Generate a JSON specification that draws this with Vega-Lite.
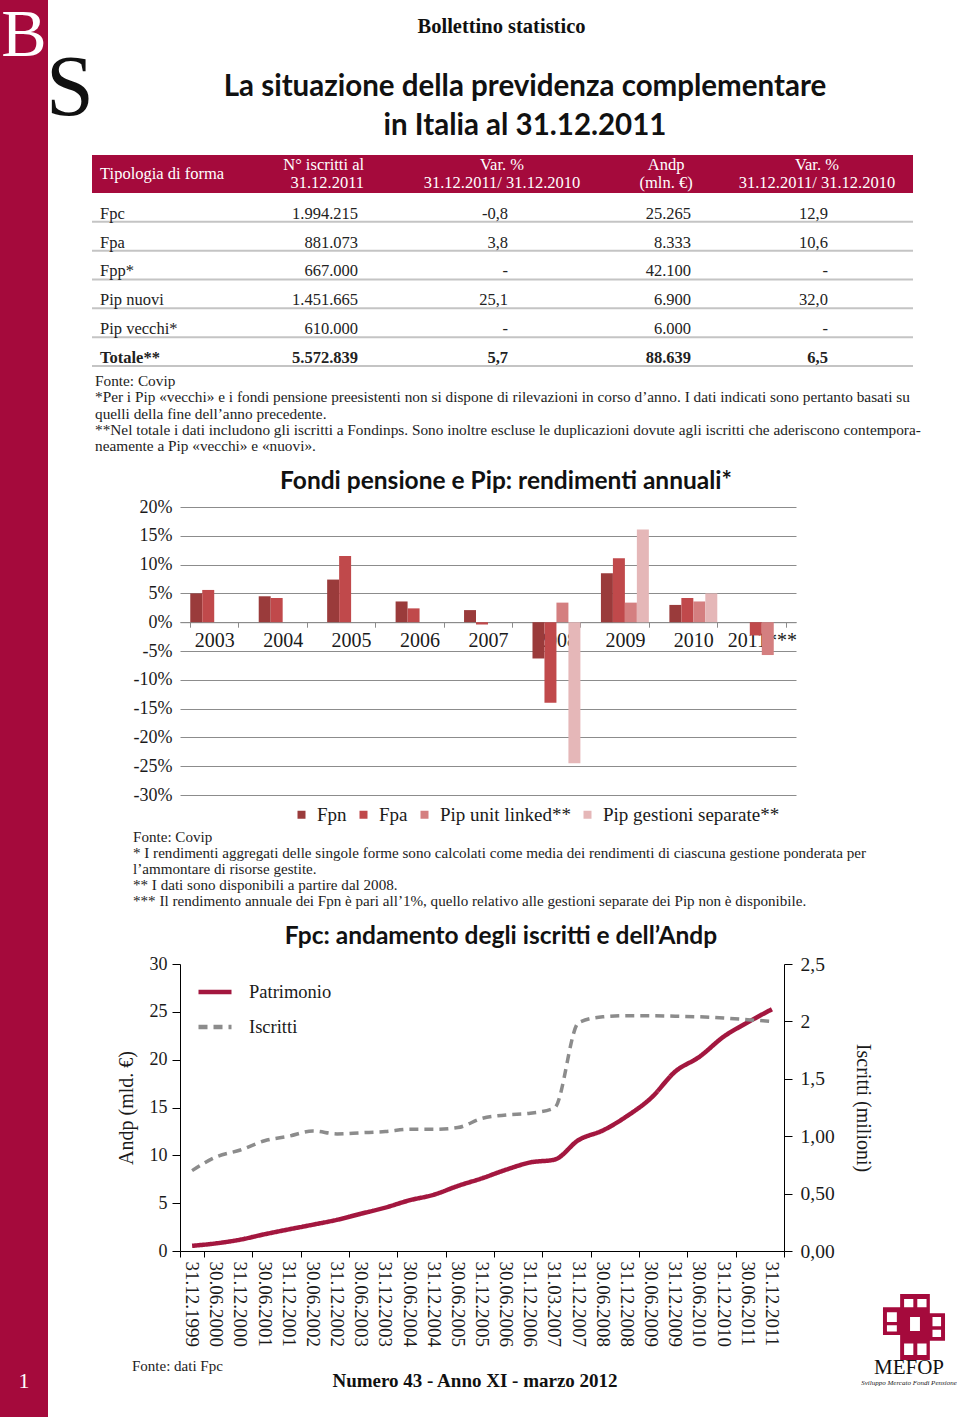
{
  "$schema": "https://vega.github.io/schema/vega-lite/v6.json",
  "padding": 0,
  "background": "white",
  "columns": 4,
  "align": "each",
  "spacing": 0,
  "bounds": "flush",
  "resolve": {"scale": {"color": "independent", "strokeDash": "independent"}, "legend": {"color": "independent", "strokeDash": "independent"}},
  "config": {
    "view": {"stroke": null},
    "concat": {"spacing": 0},
    "font": "Liberation Serif",
    "text": {"font": "Liberation Serif", "color": "#1a1a1a"},
    "axis": {"labelFont": "Liberation Serif", "titleFont": "Liberation Serif", "labelColor": "#1a1a1a", "titleColor": "#1a1a1a"},
    "legend": {"labelFont": "Liberation Serif", "labelColor": "#1a1a1a", "padding": 0},
    "title": {"font": "Liberation Serif", "color": "#1a1a1a", "fontWeight": "normal"}
  },
  "datasets": {
    "thead": [
      {"col": "forma", "h": "Tipologia di forma"},
      {"col": "iscritti", "h": "N° iscritti al\n31.12.2011"},
      {"col": "var1", "h": "Var. %\n31.12.2011/ 31.12.2010"},
      {"col": "andp", "h": "Andp\n(mln. €)"},
      {"col": "var2", "h": "Var. %\n31.12.2011/ 31.12.2010"}
    ],
    "table": [
      {"forma": "Fpc", "iscritti": "1.994.215", "var1": "-0,8", "andp": "25.265", "var2": "12,9"},
      {"forma": "Fpa", "iscritti": "881.073", "var1": "3,8", "andp": "8.333", "var2": "10,6"},
      {"forma": "Fpp*", "iscritti": "667.000", "var1": "-", "andp": "42.100", "var2": "-"},
      {"forma": "Pip nuovi", "iscritti": "1.451.665", "var1": "25,1", "andp": "6.900", "var2": "32,0"},
      {"forma": "Pip vecchi*", "iscritti": "610.000", "var1": "-", "andp": "6.000", "var2": "-"},
      {"forma": "Totale**", "iscritti": "5.572.839", "var1": "5,7", "andp": "88.639", "var2": "6,5"}
    ],
    "bars": [
      {"anno": "2003", "serie": "Fpn", "valore": 5.0}, {"anno": "2003", "serie": "Fpa", "valore": 5.6},
      {"anno": "2004", "serie": "Fpn", "valore": 4.5}, {"anno": "2004", "serie": "Fpa", "valore": 4.2},
      {"anno": "2005", "serie": "Fpn", "valore": 7.4}, {"anno": "2005", "serie": "Fpa", "valore": 11.5},
      {"anno": "2006", "serie": "Fpn", "valore": 3.6}, {"anno": "2006", "serie": "Fpa", "valore": 2.4},
      {"anno": "2007", "serie": "Fpn", "valore": 2.1}, {"anno": "2007", "serie": "Fpa", "valore": -0.4},
      {"anno": "2008", "serie": "Fpn", "valore": -6.3}, {"anno": "2008", "serie": "Fpa", "valore": -14.0},
      {"anno": "2008", "serie": "Pip unit linked**", "valore": 3.4}, {"anno": "2008", "serie": "Pip gestioni separate**", "valore": -24.5},
      {"anno": "2009", "serie": "Fpn", "valore": 8.5}, {"anno": "2009", "serie": "Fpa", "valore": 11.1},
      {"anno": "2009", "serie": "Pip unit linked**", "valore": 3.4}, {"anno": "2009", "serie": "Pip gestioni separate**", "valore": 16.1},
      {"anno": "2010", "serie": "Fpn", "valore": 3.0}, {"anno": "2010", "serie": "Fpa", "valore": 4.2},
      {"anno": "2010", "serie": "Pip unit linked**", "valore": 3.6}, {"anno": "2010", "serie": "Pip gestioni separate**", "valore": 5.0},
      {"anno": "2011***", "serie": "Fpa", "valore": -2.3}, {"anno": "2011***", "serie": "Pip unit linked**", "valore": -5.7}
    ],
    "lines": [
      {"periodo": "31.12.1999", "Patrimonio": 0.54, "Iscritti": 0.70},
      {"periodo": "30.06.2000", "Patrimonio": 0.8, "Iscritti": 0.82},
      {"periodo": "31.12.2000", "Patrimonio": 1.19, "Iscritti": 0.88},
      {"periodo": "30.06.2001", "Patrimonio": 1.75, "Iscritti": 0.96},
      {"periodo": "31.12.2001", "Patrimonio": 2.26, "Iscritti": 1.0},
      {"periodo": "30.06.2002", "Patrimonio": 2.75, "Iscritti": 1.045},
      {"periodo": "31.12.2002", "Patrimonio": 3.26, "Iscritti": 1.02},
      {"periodo": "30.06.2003", "Patrimonio": 3.9, "Iscritti": 1.03},
      {"periodo": "31.12.2003", "Patrimonio": 4.54, "Iscritti": 1.04},
      {"periodo": "30.06.2004", "Patrimonio": 5.3, "Iscritti": 1.06},
      {"periodo": "31.12.2004", "Patrimonio": 5.88, "Iscritti": 1.06},
      {"periodo": "30.06.2005", "Patrimonio": 6.8, "Iscritti": 1.075},
      {"periodo": "31.12.2005", "Patrimonio": 7.6, "Iscritti": 1.155},
      {"periodo": "30.06.2006", "Patrimonio": 8.5, "Iscritti": 1.185},
      {"periodo": "31.12.2006", "Patrimonio": 9.26, "Iscritti": 1.2},
      {"periodo": "31.03.2007", "Patrimonio": 9.55, "Iscritti": 1.245},
      {"periodo": "31.12.2007", "Patrimonio": 11.6, "Iscritti": 1.99},
      {"periodo": "30.06.2008", "Patrimonio": 12.6, "Iscritti": 2.04},
      {"periodo": "31.12.2008", "Patrimonio": 14.1, "Iscritti": 2.05},
      {"periodo": "30.06.2009", "Patrimonio": 16.0, "Iscritti": 2.05},
      {"periodo": "31.12.2009", "Patrimonio": 18.76, "Iscritti": 2.045},
      {"periodo": "30.06.2010", "Patrimonio": 20.3, "Iscritti": 2.04},
      {"periodo": "31.12.2010", "Patrimonio": 22.4, "Iscritti": 2.03},
      {"periodo": "30.06.2011", "Patrimonio": 23.9, "Iscritti": 2.015},
      {"periodo": "31.12.2011", "Patrimonio": 25.27, "Iscritti": 2.0}
    ]
  },
  "concat": [
    {"width": 48, "height": 72, "view": {"fill": "#a50a3c", "stroke": null},
     "data": {"values": [{"t": "B"}]},
     "mark": {"type": "text", "fontSize": 68, "color": "#ffffff", "baseline": "middle", "align": "center"},
     "encoding": {"text": {"field": "t", "type": "nominal"}}},
    {"width": 44, "height": 1, "data": {"values": []}, "mark": "point"},
    {"width": 819, "height": 54, "data": {"values": [{"t": "Bollettino statistico"}]},
     "mark": {"type": "text", "fontSize": 20.5, "fontWeight": "bold", "color": "#111111", "baseline": "middle"},
     "encoding": {"text": {"field": "t", "type": "nominal"}}},
    {"width": 1, "height": 1, "data": {"values": []}, "mark": "point"},

    {"width": 48, "height": 83, "view": {"fill": "#a50a3c", "stroke": null}, "data": {"values": []}, "mark": "point"},
    {"width": 44, "height": 34, "data": {"values": [{"t": "S"}]},
     "mark": {"type": "text", "fontSize": 86, "color": "#111111", "baseline": "middle", "align": "center"},
     "encoding": {"text": {"field": "t", "type": "nominal"}}},
    {"width": 821, "height": 30, "data": {"values": [{"t": "La situazione della previdenza complementare\nin Italia al 31.12.2011"}]},
     "mark": {"type": "text", "font": "Lato", "fontSize": 29.5, "fontWeight": "bold", "color": "#111111", "baseline": "middle", "dx": 22.5, "lineBreak": "\n", "lineHeight": 39},
     "encoding": {"text": {"field": "t", "type": "nominal"}}},
    {"width": 1, "height": 1, "data": {"values": []}, "mark": "point"},

    {"width": 48, "height": 38, "view": {"fill": "#a50a3c", "stroke": null}, "data": {"values": []}, "mark": "point"},
    {"width": 44, "height": 1, "data": {"values": []}, "mark": "point"},
    {
      "width": 821, "height": 38,
      "view": {"fill": "#a50a3c", "stroke": null},
      "data": {"name": "thead"},
      "layer": [
        {"transform": [{"filter": "datum.col == 'forma'"}],
         "mark": {"type": "text", "align": "left", "baseline": "middle", "color": "#ffffff", "fontSize": 16.5},
         "encoding": {"x": {"field": "col", "type": "nominal", "bandPosition": 0.049, "scale": {"type": "band", "domain": ["forma", "iscritti", "var1", "andp", "var2"], "paddingInner": 0, "paddingOuter": 0}, "axis": null},
                      "text": {"field": "h", "type": "nominal"}}},
        {"transform": [{"filter": "datum.col == 'iscritti'"}],
         "mark": {"type": "text", "align": "right", "baseline": "middle", "dy": -9, "color": "#ffffff", "fontSize": 16.5, "lineBreak": "\n", "lineHeight": 18},
         "encoding": {"x": {"field": "col", "type": "nominal", "bandPosition": 0.657, "axis": null},
                      "text": {"field": "h", "type": "nominal"}}},
        {"transform": [{"filter": "datum.col == 'var1'"}],
         "mark": {"type": "text", "align": "center", "baseline": "middle", "dy": -9, "color": "#ffffff", "fontSize": 16.5, "lineBreak": "\n", "lineHeight": 18},
         "encoding": {"x": {"field": "col", "type": "nominal", "bandPosition": 0.497, "axis": null},
                      "text": {"field": "h", "type": "nominal"}}},
        {"transform": [{"filter": "datum.col == 'andp'"}],
         "mark": {"type": "text", "align": "center", "baseline": "middle", "dy": -9, "color": "#ffffff", "fontSize": 16.5, "lineBreak": "\n", "lineHeight": 18},
         "encoding": {"x": {"field": "col", "type": "nominal", "bandPosition": 0.496, "axis": null},
                      "text": {"field": "h", "type": "nominal"}}},
        {"transform": [{"filter": "datum.col == 'var2'"}],
         "mark": {"type": "text", "align": "center", "baseline": "middle", "dy": -9, "color": "#ffffff", "fontSize": 16.5, "lineBreak": "\n", "lineHeight": 18},
         "encoding": {"x": {"field": "col", "type": "nominal", "bandPosition": 0.415, "axis": null},
                      "text": {"field": "h", "type": "nominal"}}}
      ]
    },
    {"width": 1, "height": 1, "data": {"values": []}, "mark": "point"},

    {"width": 48, "height": 173, "view": {"fill": "#a50a3c", "stroke": null}, "data": {"values": []}, "mark": "point"},
    {"width": 44, "height": 1, "data": {"values": []}, "mark": "point"},
    {
      "width": 821, "height": 173,
      "data": {"name": "table"},
      "title": {
        "text": [
          "Fonte: Covip",
          "*Per i Pip «vecchi» e i fondi pensione preesistenti non si dispone di rilevazioni in corso d’anno. I dati indicati sono pertanto basati su",
          "quelli della fine dell’anno precedente.",
          "**Nel totale i dati includono gli iscritti a Fondinps. Sono inoltre escluse le duplicazioni dovute agli iscritti che aderiscono contempora-",
          "neamente a Pip «vecchi» e «nuovi»."
        ],
        "orient": "bottom", "anchor": "start", "frame": "group", "align": "left", "baseline": "top",
        "offset": 7, "dx": 3, "fontSize": 15.3, "lineHeight": 16.3, "color": "#222222"
      },
      "layer": [
        {"mark": {"type": "rule", "color": "#c4c4c4", "strokeWidth": 2},
         "encoding": {"y": {"field": "forma", "type": "nominal", "bandPosition": 1, "scale": {"type": "band", "domain": ["Fpc", "Fpa", "Fpp*", "Pip nuovi", "Pip vecchi*", "Totale**"], "paddingInner": 0, "paddingOuter": 0}, "axis": null}}},
        {"transform": [{"fold": ["forma", "iscritti", "var1", "andp", "var2"], "as": ["col", "val"]}, {"filter": "datum.col == 'forma' && datum.forma != 'Totale**'"}],
         "mark": {"type": "text", "align": "left", "baseline": "middle", "fontSize": 16.5, "color": "#222222"},
         "encoding": {"x": {"field": "col", "type": "nominal", "bandPosition": 0.049, "scale": {"type": "band", "domain": ["forma", "iscritti", "var1", "andp", "var2"], "paddingInner": 0, "paddingOuter": 0}, "axis": null},
                      "y": {"field": "forma", "type": "nominal", "bandPosition": 0.72, "axis": null},
                      "text": {"field": "val", "type": "nominal"}}},
        {"transform": [{"fold": ["forma", "iscritti", "var1", "andp", "var2"], "as": ["col", "val"]}, {"filter": "datum.col == 'forma' && datum.forma == 'Totale**'"}],
         "mark": {"type": "text", "align": "left", "baseline": "middle", "fontSize": 16.5, "fontWeight": "bold", "color": "#222222"},
         "encoding": {"x": {"field": "col", "type": "nominal", "bandPosition": 0.049, "axis": null},
                      "y": {"field": "forma", "type": "nominal", "bandPosition": 0.72, "axis": null},
                      "text": {"field": "val", "type": "nominal"}}},
        {"transform": [{"fold": ["forma", "iscritti", "var1", "andp", "var2"], "as": ["col", "val"]}, {"filter": "datum.col == 'iscritti' && datum.forma != 'Totale**'"}],
         "mark": {"type": "text", "align": "right", "baseline": "middle", "fontSize": 16.5, "color": "#222222"},
         "encoding": {"x": {"field": "col", "type": "nominal", "bandPosition": 0.62, "axis": null},
                      "y": {"field": "forma", "type": "nominal", "bandPosition": 0.72, "axis": null},
                      "text": {"field": "val", "type": "nominal"}}},
        {"transform": [{"fold": ["forma", "iscritti", "var1", "andp", "var2"], "as": ["col", "val"]}, {"filter": "datum.col == 'iscritti' && datum.forma == 'Totale**'"}],
         "mark": {"type": "text", "align": "right", "baseline": "middle", "fontSize": 16.5, "fontWeight": "bold", "color": "#222222"},
         "encoding": {"x": {"field": "col", "type": "nominal", "bandPosition": 0.62, "axis": null},
                      "y": {"field": "forma", "type": "nominal", "bandPosition": 0.72, "axis": null},
                      "text": {"field": "val", "type": "nominal"}}},
        {"transform": [{"fold": ["forma", "iscritti", "var1", "andp", "var2"], "as": ["col", "val"]}, {"filter": "datum.col == 'var1' && datum.forma != 'Totale**'"}],
         "mark": {"type": "text", "align": "right", "baseline": "middle", "fontSize": 16.5, "color": "#222222"},
         "encoding": {"x": {"field": "col", "type": "nominal", "bandPosition": 0.534, "axis": null},
                      "y": {"field": "forma", "type": "nominal", "bandPosition": 0.72, "axis": null},
                      "text": {"field": "val", "type": "nominal"}}},
        {"transform": [{"fold": ["forma", "iscritti", "var1", "andp", "var2"], "as": ["col", "val"]}, {"filter": "datum.col == 'var1' && datum.forma == 'Totale**'"}],
         "mark": {"type": "text", "align": "right", "baseline": "middle", "fontSize": 16.5, "fontWeight": "bold", "color": "#222222"},
         "encoding": {"x": {"field": "col", "type": "nominal", "bandPosition": 0.534, "axis": null},
                      "y": {"field": "forma", "type": "nominal", "bandPosition": 0.72, "axis": null},
                      "text": {"field": "val", "type": "nominal"}}},
        {"transform": [{"fold": ["forma", "iscritti", "var1", "andp", "var2"], "as": ["col", "val"]}, {"filter": "datum.col == 'andp' && datum.forma != 'Totale**'"}],
         "mark": {"type": "text", "align": "right", "baseline": "middle", "fontSize": 16.5, "color": "#222222"},
         "encoding": {"x": {"field": "col", "type": "nominal", "bandPosition": 0.648, "axis": null},
                      "y": {"field": "forma", "type": "nominal", "bandPosition": 0.72, "axis": null},
                      "text": {"field": "val", "type": "nominal"}}},
        {"transform": [{"fold": ["forma", "iscritti", "var1", "andp", "var2"], "as": ["col", "val"]}, {"filter": "datum.col == 'andp' && datum.forma == 'Totale**'"}],
         "mark": {"type": "text", "align": "right", "baseline": "middle", "fontSize": 16.5, "fontWeight": "bold", "color": "#222222"},
         "encoding": {"x": {"field": "col", "type": "nominal", "bandPosition": 0.648, "axis": null},
                      "y": {"field": "forma", "type": "nominal", "bandPosition": 0.72, "axis": null},
                      "text": {"field": "val", "type": "nominal"}}},
        {"transform": [{"fold": ["forma", "iscritti", "var1", "andp", "var2"], "as": ["col", "val"]}, {"filter": "datum.col == 'var2' && datum.forma != 'Totale**'"}],
         "mark": {"type": "text", "align": "right", "baseline": "middle", "fontSize": 16.5, "color": "#222222"},
         "encoding": {"x": {"field": "col", "type": "nominal", "bandPosition": 0.482, "axis": null},
                      "y": {"field": "forma", "type": "nominal", "bandPosition": 0.72, "axis": null},
                      "text": {"field": "val", "type": "nominal"}}},
        {"transform": [{"fold": ["forma", "iscritti", "var1", "andp", "var2"], "as": ["col", "val"]}, {"filter": "datum.col == 'var2' && datum.forma == 'Totale**'"}],
         "mark": {"type": "text", "align": "right", "baseline": "middle", "fontSize": 16.5, "fontWeight": "bold", "color": "#222222"},
         "encoding": {"x": {"field": "col", "type": "nominal", "bandPosition": 0.482, "axis": null},
                      "y": {"field": "forma", "type": "nominal", "bandPosition": 0.72, "axis": null},
                      "text": {"field": "val", "type": "nominal"}}}
      ]
    },
    {"width": 1, "height": 1, "data": {"values": []}, "mark": "point"},

    {"width": 48, "height": 141, "view": {"fill": "#a50a3c", "stroke": null}, "data": {"values": []}, "mark": "point"},
    {"width": 44, "height": 1, "data": {"values": []}, "mark": "point"},
    {"width": 1, "height": 1, "data": {"values": []}, "mark": "point"},
    {"width": 1, "height": 1, "data": {"values": []}, "mark": "point"},

    {"width": 48, "height": 288, "view": {"fill": "#a50a3c", "stroke": null}, "data": {"values": []}, "mark": "point"},
    {"width": 44, "height": 1, "data": {"values": []}, "mark": "point"},
    {
      "width": 704, "height": 288,
      "data": {"name": "bars"},
      "title": {"text": "Fondi pensione e Pip: rendimenti annuali*", "font": "Lato", "fontSize": 24.5, "fontWeight": "bold", "color": "#111111", "anchor": "middle", "frame": "group", "dx": 62, "offset": -20, "baseline": "bottom"},
      "mark": {"type": "bar"},
      "encoding": {
        "x": {"field": "anno", "type": "nominal",
              "scale": {"domain": ["2003", "2004", "2005", "2006", "2007", "2008", "2009", "2010", "2011***"], "range": [88, 704], "paddingInner": 0.3, "paddingOuter": 0.15},
              "axis": {"title": null, "orient": "bottom", "offset": -172.8, "labelAngle": 0, "labelFontSize": 20, "labelPadding": 3, "tickBand": "extent", "tickSize": 5, "tickColor": "#8c8c8c", "domainColor": "#8c8c8c", "labelOverlap": false, "labelColor": "#1a1a1a"}},
        "xOffset": {"field": "serie", "type": "nominal", "scale": {"domain": ["Fpn", "Fpa", "Pip unit linked**", "Pip gestioni separate**"], "paddingInner": 0, "paddingOuter": 0}},
        "y": {"field": "valore", "type": "quantitative",
              "scale": {"domain": [-30, 20], "nice": false},
              "axis": {"title": null, "offset": -88, "values": [-30, -25, -20, -15, -10, -5, 0, 5, 10, 15, 20], "labelExpr": "datum.value + '%'", "grid": true, "gridColor": "#8c8c8c", "gridWidth": 1, "domain": false, "ticks": false, "labelFontSize": 18, "labelPadding": 8}},
        "color": {"field": "serie", "type": "nominal",
                  "scale": {"domain": ["Fpn", "Fpa", "Pip unit linked**", "Pip gestioni separate**"], "range": ["#9a3b3b", "#c0494b", "#d47f80", "#e5b7b8"]},
                  "legend": {"title": null, "orient": "none", "legendX": 200, "legendY": 298, "direction": "horizontal", "columns": 4, "symbolType": "square", "symbolSize": 64, "labelFontSize": 19, "labelOffset": 6, "columnPadding": 7, "labelLimit": 400, "padding": 0}}
      }
    },
    {"width": 1, "height": 1, "data": {"values": []}, "mark": "point"},

    {"width": 48, "height": 35, "view": {"fill": "#a50a3c", "stroke": null}, "data": {"values": []}, "mark": "point"},
    {"width": 44, "height": 1, "data": {"values": []}, "mark": "point"},
    {"width": 700, "height": 35, "data": {"values": []}, "mark": "point",
     "title": {
       "text": [
         "Fonte: Covip",
         "* I rendimenti aggregati delle singole forme sono calcolati come media dei rendimenti di ciascuna gestione ponderata per",
         "l’ammontare di risorse gestite.",
         "** I dati sono disponibili a partire dal 2008.",
         "*** Il rendimento annuale dei Fpn è pari all’1%, quello relativo alle gestioni separate dei Pip non è disponibile."
       ],
       "orient": "bottom", "anchor": "start", "frame": "group", "align": "left", "baseline": "top",
       "offset": 0, "dx": 41, "fontSize": 15.1, "lineHeight": 16, "color": "#222222"
     }},
    {"width": 1, "height": 1, "data": {"values": []}, "mark": "point"},

    {"width": 48, "height": 134, "view": {"fill": "#a50a3c", "stroke": null}, "data": {"values": []}, "mark": "point"},
    {"width": 44, "height": 1, "data": {"values": []}, "mark": "point"},
    {"width": 1, "height": 1, "data": {"values": []}, "mark": "point"},
    {"width": 1, "height": 1, "data": {"values": []}, "mark": "point"},

    {"width": 48, "height": 287, "view": {"fill": "#a50a3c", "stroke": null}, "data": {"values": []}, "mark": "point"},
    {"width": 44, "height": 1, "data": {"values": []}, "mark": "point"},
    {
      "width": 692, "height": 287,
      "data": {"name": "lines"},
      "transform": [{"fold": ["Patrimonio", "Iscritti"], "as": ["serie", "valore"]}],
      "title": {"text": "Fpc: andamento degli iscritti e dell’Andp", "font": "Lato", "fontSize": 24.5, "fontWeight": "bold", "color": "#111111", "anchor": "middle", "frame": "group", "dx": 63, "offset": -19, "baseline": "bottom"},
      "layer": [
        {
          "transform": [{"filter": "datum.serie == 'Patrimonio'"}],
          "mark": {"type": "line", "strokeWidth": 4.5, "interpolate": "monotone"},
          "encoding": {
            "x": {"field": "periodo", "type": "ordinal", "sort": null, "bandPosition": 0.5,
                  "scale": {"type": "band", "range": [88, 692], "paddingInner": 0, "paddingOuter": 0},
                  "axis": {"title": null, "orient": "bottom", "labelAngle": 90, "labelFontSize": 19, "labelPadding": 10, "ticks": false, "domainColor": "#000000", "labelOverlap": false, "labelColor": "#1a1a1a"}},
            "y": {"field": "valore", "type": "quantitative", "scale": {"domain": [0, 30], "nice": false},
                  "axis": {"title": "Andp (mld. €)", "offset": -88, "values": [0, 5, 10, 15, 20, 25, 30], "grid": false, "tickSize": 8, "tickColor": "#000000", "domainColor": "#000000", "labelFontSize": 18, "labelPadding": 5, "titleFontSize": 20, "titleFontWeight": "normal", "titlePadding": 13}},
            "color": {"field": "serie", "type": "nominal", "scale": {"domain": ["Patrimonio", "Iscritti"], "range": ["#a3173f", "#8c8c8c"]},
                      "legend": {"title": null, "orient": "none", "legendX": 104, "legendY": 9, "direction": "vertical", "symbolType": "stroke", "symbolSize": 1089, "symbolStrokeWidth": 4.5, "labelFontSize": 18.5, "labelOffset": 15, "rowPadding": 6, "padding": 0}},
            "strokeDash": {"field": "serie", "type": "nominal", "scale": {"domain": ["Patrimonio", "Iscritti"], "range": [[1, 0], [9, 6]]},
                      "legend": {"title": null, "orient": "none", "legendX": 104, "legendY": 9, "direction": "vertical", "symbolType": "stroke", "symbolSize": 1089, "symbolStrokeWidth": 4.5, "labelFontSize": 18.5, "labelOffset": 15, "rowPadding": 6, "padding": 0}}
          }
        },
        {
          "transform": [{"filter": "datum.serie == 'Iscritti'"}],
          "mark": {"type": "line", "strokeWidth": 3.5, "interpolate": "monotone"},
          "encoding": {
            "x": {"field": "periodo", "type": "ordinal", "sort": null, "bandPosition": 0.5,
                  "axis": {"title": null, "orient": "bottom", "labels": false, "domain": false, "ticks": true, "tickBand": "extent", "tickSize": 6, "tickColor": "#000000",
                           "values": ["31.12.1999", "31.12.2000", "31.12.2001", "31.12.2002", "31.12.2003", "31.12.2004", "31.12.2005", "31.12.2006", "31.12.2007", "31.12.2008", "31.12.2009", "31.12.2010", "31.12.2011"]}},
            "y": {"field": "valore", "type": "quantitative", "scale": {"domain": [0, 2.5], "nice": false},
                  "axis": {"orient": "right", "title": "Iscritti (milioni)", "values": [0, 0.5, 1, 1.5, 2, 2.5],
                           "labelExpr": "datum.value == 0 ? '0,00' : datum.value == 0.5 ? '0,50' : datum.value == 1 ? '1,00' : datum.value == 1.5 ? '1,5' : datum.value == 2 ? '2' : '2,5'",
                           "grid": false, "tickSize": 8, "tickColor": "#000000", "domainColor": "#000000", "labelFontSize": 19.5, "labelPadding": 8, "titleFontSize": 20, "titleFontWeight": "normal", "titlePadding": 18}},
            "color": {"field": "serie", "type": "nominal"},
            "strokeDash": {"field": "serie", "type": "nominal"}
          }
        }
      ],
      "resolve": {"scale": {"y": "independent"}, "axis": {"x": "independent"}}
    },
    {"width": 1, "height": 1, "data": {"values": []}, "mark": "point"},

    {"width": 48, "height": 44, "view": {"fill": "#a50a3c", "stroke": null}, "data": {"values": []}, "mark": "point"},
    {"width": 44, "height": 1, "data": {"values": []}, "mark": "point"},
    {"width": 1, "height": 1, "data": {"values": []}, "mark": "point"},
    {"width": 1, "height": 1, "data": {"values": []}, "mark": "point"},

    {"width": 48, "height": 64, "view": {"fill": "#a50a3c", "stroke": null}, "data": {"values": []}, "mark": "point"},
    {"width": 44, "height": 1, "data": {"values": []}, "mark": "point"},
    {"width": 700, "height": 64, "data": {"values": []}, "mark": "point",
     "title": {"text": "Fonte: dati Fpc", "orient": "bottom", "anchor": "start", "frame": "group", "align": "left", "baseline": "top", "offset": 0, "dx": 40, "fontSize": 15, "color": "#222222"}},
    {"width": 2, "height": 64, "data": {"values": [{"k": "logo"}]},
     "mark": {"type": "point", "shape": "M-0.42,-1H0.48V-0.3H-0.42Z M-0.3,-0.85V-0.6H-0.02V-0.85Z M0.1,-0.85V-0.6H0.38V-0.85Z M-0.94,-0.6H-0.12V0.24H-0.94Z M-0.82,-0.45V-0.15H-0.52V-0.45Z M-0.82,-0.05V0.14H-0.52V-0.05Z M0.18,-0.42H0.94V0.42H0.18Z M0.56,-0.3V-0.02H0.82V-0.3Z M0.56,0.08V0.3H0.82V0.08Z M-0.42,0.12H0.48V1H-0.42Z M-0.3,0.5V0.85H-0.02V0.5Z M0.1,0.5V0.85H0.38V0.5Z", "size": 4356, "filled": true, "color": "#a50a3c", "opacity": 1, "strokeWidth": 0, "dx": -3},
     "title": {"text": "MEFOP", "subtitle": "Sviluppo Mercato Fondi Pensione", "orient": "bottom", "anchor": "middle", "frame": "group", "offset": -3, "dx": -5, "fontSize": 21, "color": "#111111", "subtitleFont": "Liberation Serif", "subtitleFontStyle": "italic", "subtitleFontSize": 7, "subtitleColor": "#222222", "subtitlePadding": 1}},

    {"width": 48, "height": 44, "view": {"fill": "#a50a3c", "stroke": null},
     "data": {"values": [{"t": "1"}]},
     "mark": {"type": "text", "fontSize": 22, "color": "#ffffff", "baseline": "middle", "align": "center"},
     "encoding": {"text": {"field": "t", "type": "nominal"}}},
    {"width": 44, "height": 1, "data": {"values": []}, "mark": "point"},
    {"width": 766, "height": 44, "data": {"values": [{"t": "Numero 43 - Anno XI - marzo 2012"}]},
     "mark": {"type": "text", "fontSize": 19, "fontWeight": "bold", "color": "#111111", "baseline": "middle"},
     "encoding": {"text": {"field": "t", "type": "nominal"}}},
    {"width": 1, "height": 1, "data": {"values": []}, "mark": "point"},

    {"width": 48, "height": 14, "view": {"fill": "#a50a3c", "stroke": null}, "data": {"values": []}, "mark": "point"},
    {"width": 44, "height": 1, "data": {"values": []}, "mark": "point"},
    {"width": 1, "height": 1, "data": {"values": []}, "mark": "point"},
    {"width": 1, "height": 1, "data": {"values": []}, "mark": "point"}
  ]
}
